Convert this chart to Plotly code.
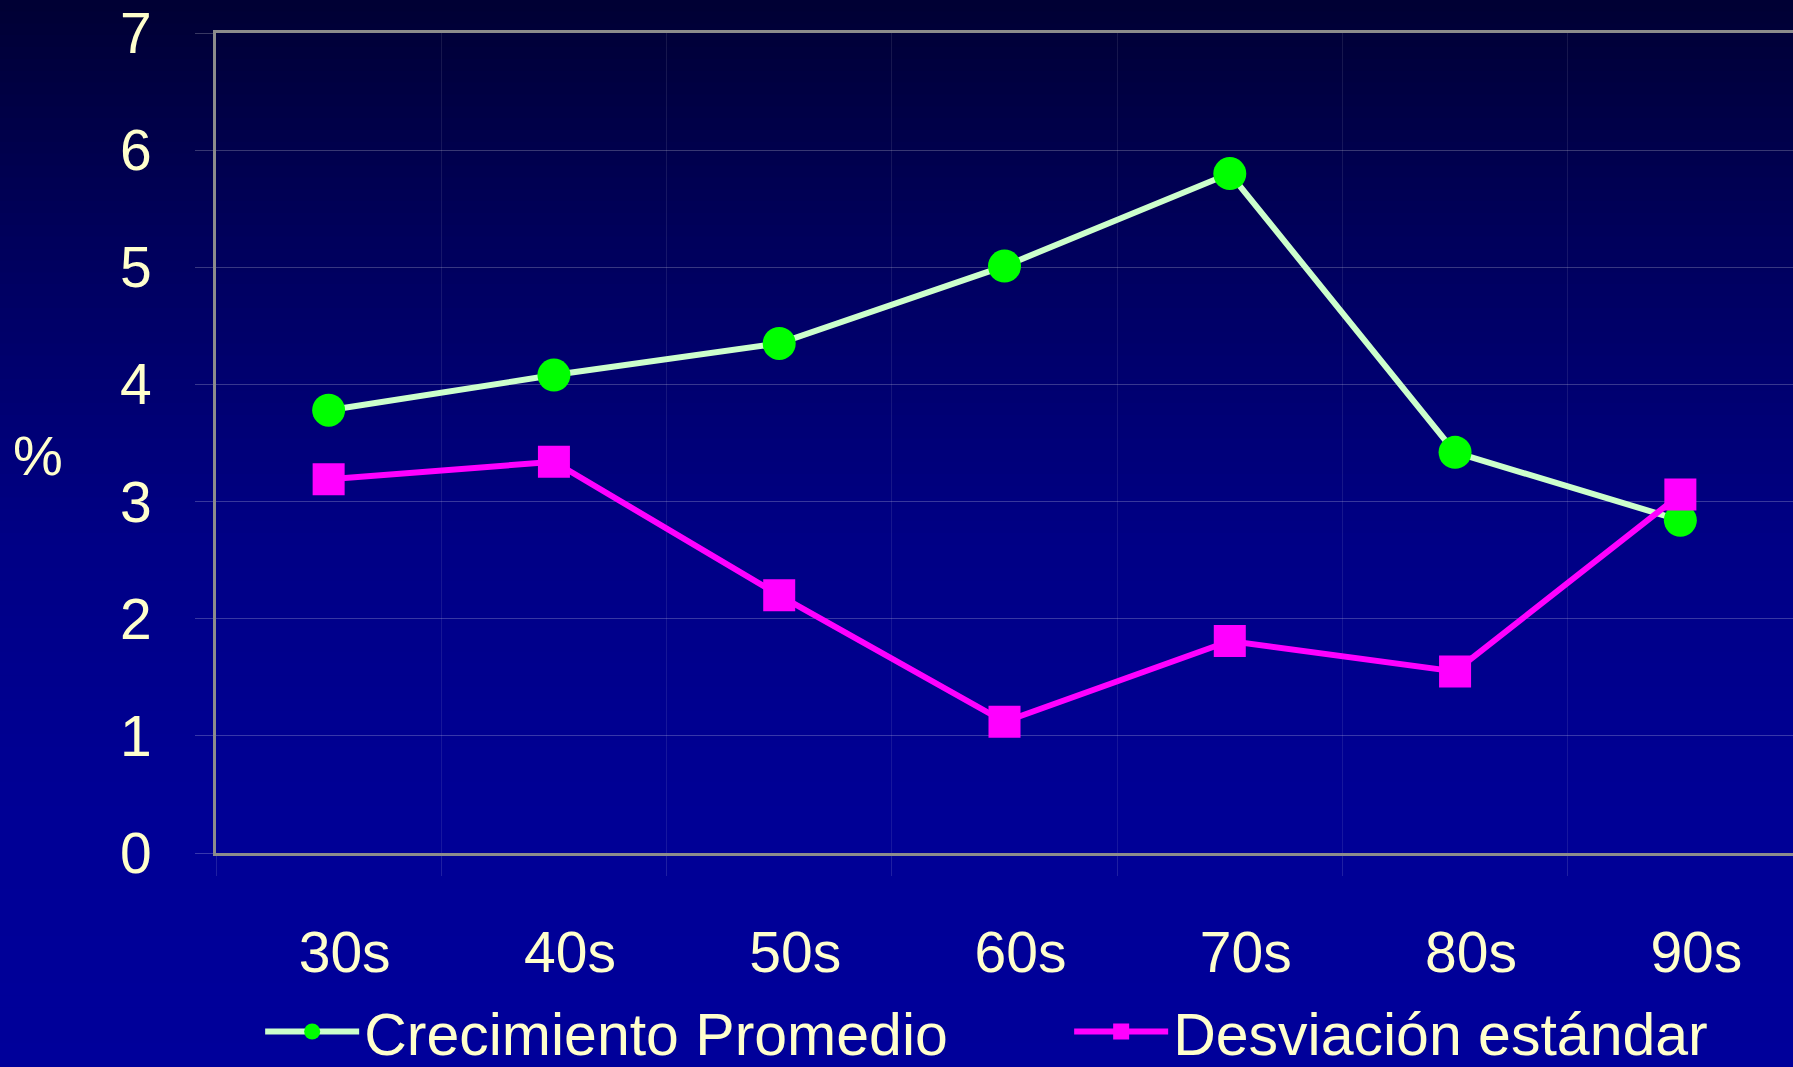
import plotly.graph_objects as go

decades = ["30s", "40s", "50s", "60s", "70s", "80s", "90s"]
crecimiento = [3.78, 4.08, 4.35, 5.01, 5.80, 3.42, 2.84]
desviacion = [3.19, 3.34, 2.20, 1.12, 1.81, 1.55, 3.06]

FONT = "Liberation Sans Narrow, Arial Narrow, Liberation Sans, Arial, sans-serif"
TXT = "#FFFFCC"
W, H = 1793, 1067
L, T, B = 216, 33, 214

fig = go.Figure()
fig.add_trace(go.Scatter(
    x=decades, y=crecimiento, mode="lines+markers", name="Crecimiento Promedio",
    line=dict(color="#CCFFCC", width=6),
    marker=dict(color="#00FF00", symbol="circle", size=33),
    legend="legend",
))
fig.add_trace(go.Scatter(
    x=decades, y=desviacion, mode="lines+markers", name="Desviación estándar",
    line=dict(color="#FF00FF", width=6),
    marker=dict(color="#FF00FF", symbol="square", size=32),
    legend="legend2",
))

# vertical background gradient (dark navy at top -> blue at bottom)
stops = [(0, (0, 0, 0x33)), (270, (0, 0, 0x60)), (540, (0, 0, 0x85)),
         (810, (0, 0, 0x95)), (1067, (0, 0, 0x9A))]
plot_h = H - T - B
shapes = []
n = 90
for i in range(n):
    y0 = H * i / n
    y1 = H * (i + 1) / n
    ym = (y0 + y1) / 2
    for (a, ca), (b, cb) in zip(stops[:-1], stops[1:]):
        if a <= ym <= b:
            f = (ym - a) / (b - a)
            c = tuple(round(ca[k] + (cb[k] - ca[k]) * f) for k in range(3))
            break
    shapes.append(dict(
        type="rect", xref="paper", yref="paper", layer="below",
        x0=-L / (W - L), x1=1.0,
        y0=(H - B - y1 - 0.5) / plot_h, y1=(H - B - y0 + 0.5) / plot_h,
        fillcolor="rgb(%d,%d,%d)" % c, line=dict(width=0),
    ))

legend_common = dict(
    orientation="h", xanchor="left", y=-0.163, yanchor="top",
    font=dict(family=FONT, size=59, color=TXT),
    bgcolor="rgba(0,0,0,0)", itemwidth=94,
)

fig.update_layout(
    width=W, height=H,
    margin=dict(l=L, r=0, t=T, b=B, autoexpand=False),
    paper_bgcolor="#00009A", plot_bgcolor="rgba(0,0,0,0)",
    font=dict(family=FONT, color=TXT, size=56),
    shapes=shapes,
    showlegend=True,
    legend=dict(x=0.028, **legend_common),
    legend2=dict(x=0.541, **legend_common),
    xaxis=dict(
        type="category", tickson="boundaries", range=[-0.5, 6.5],
        showgrid=True, gridcolor="rgba(255,255,255,0.09)", gridwidth=1,
        showline=True, linecolor="#8C8C8C", linewidth=3, mirror=True,
        ticks="outside", ticklen=20, tickcolor="rgba(255,255,255,0.12)",
        ticklabelshift=16, ticklabelstandoff=48,
        tickfont=dict(family=FONT, size=57, color=TXT),
        zeroline=False, fixedrange=True,
    ),
    yaxis=dict(
        range=[0, 7], dtick=1, tick0=0,
        showgrid=True, gridcolor="rgba(255,255,255,0.22)", gridwidth=1,
        showline=True, linecolor="#8C8C8C", linewidth=3, mirror=True,
        ticks="outside", ticklen=18, tickcolor="rgba(255,255,255,0.22)",
        ticklabelstandoff=32,
        tickfont=dict(family=FONT, size=57, color=TXT),
        zeroline=False, fixedrange=True,
    ),
    annotations=[dict(
        text="%", xref="paper", yref="paper", x=-(L - 38) / (W - L), y=(H - B - 455) / plot_h,
        xanchor="center", yanchor="middle", showarrow=False,
        font=dict(family=FONT, size=56, color=TXT),
    )],
)

fig.write_html("out.html", config={"displayModeBar": False},
               post_script="document.body.style.margin='0';")
